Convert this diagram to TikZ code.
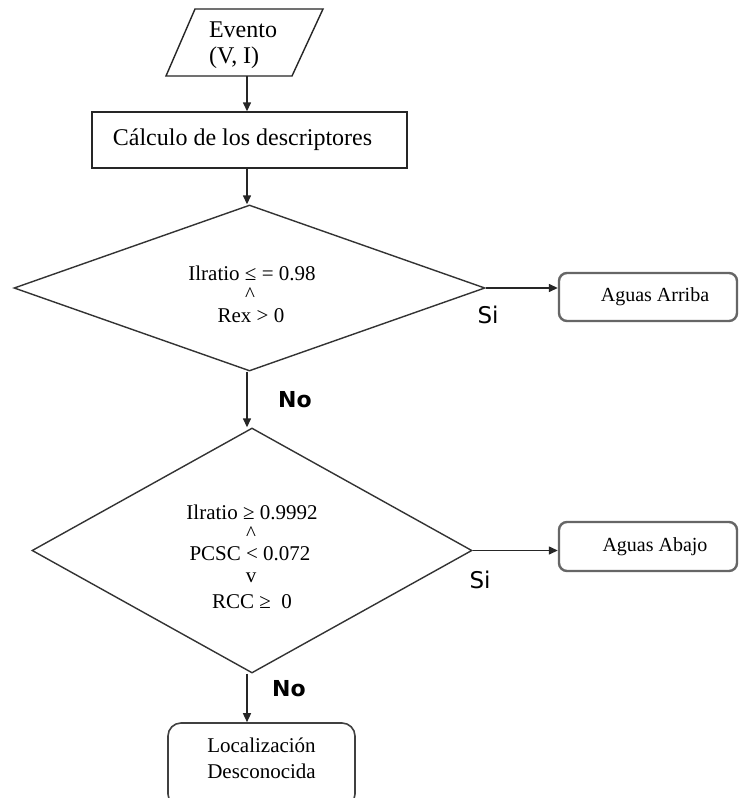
\documentclass[tikz,border=0pt]{standalone}
\usepackage{fontspec}
\setmainfont{Liberation Serif}
\newfontfamily\sifont{DejaVu Sans}
\usetikzlibrary{shapes.geometric,arrows.meta}
\begin{document}
\begin{tikzpicture}[x=1pt,y=-1pt,
  line/.style={draw=black!85, line width=1.4pt},
  arr/.style={line, -{Triangle[length=9pt,width=8pt]}},
  dec/.style={diamond, draw=black!80, line width=1.4pt, inner sep=0pt, aspect=1},
  txt/.style={font=\fontsize{21}{25}\selectfont, inner sep=0pt, anchor=base},
  rbox/.style={draw=black!60, line width=2.4pt, rounded corners=8pt, inner sep=0pt, font=\fontsize{20}{24}\selectfont},
  lbl/.style={font=\sifont\fontsize{23}{26}\selectfont, inner sep=0pt},
  lblb/.style={font=\sifont\bfseries\fontsize{22}{26}\selectfont, inner sep=0pt},
]
\useasboundingbox (0,0) rectangle (740,798);
\fill[white] (0,0) rectangle (740,798);

% input parallelogram
\draw[line] (195,9) -- (323,9) -- (292,76) -- (166,76) -- cycle;
\node (ev) [align=left, inner sep=0pt, font=\fontsize{24}{26}\selectfont] at (243,45.5) {Evento\\(V, I)};
\coordinate (evb) at (247,76);

% process
\node (calc) [draw=black!85, line width=1.4pt, minimum width=315pt, minimum height=56pt, inner sep=0pt,
  font=\fontsize{24}{28}\selectfont] at (249.5,140) {\hspace*{-14pt}Cálculo de los descriptores};

% decisions
\node (d1) [dec, minimum width=471pt, minimum height=166pt] at (249.5,288) {};
\node (d2) [dec, minimum width=440pt, minimum height=245pt] at (252,550.5) {};

\node (d1a) [txt] at (252,280) {Ilratio ≤ = 0.98};
\node (d1b) [txt] at (250,301) {\textasciicircum};
\node (d1c) [txt] at (251,322) {Rex > 0};

\node (d2a) [txt] at (252,519) {Ilratio ≥ 0.9992};
\node (d2b) [txt] at (251,540) {\textasciicircum};
\node (d2c) [txt] at (250,560) {PCSC < 0.072};
\node (d2d) [txt] at (251,582) {v};
\node (d2e) [txt] at (252,608) {RCC ≥\ \ 0};

% outputs
\node (ab1) [rbox, minimum width=178pt, minimum height=48pt] at (648,297) {\hspace*{14pt}Aguas Arriba};
\node (ab2) [rbox, minimum width=178pt, minimum height=49pt] at (648,546.5) {\hspace*{14pt}Aguas Abajo};
\node (loc) [draw=black!75, line width=1.6pt, rounded corners=13pt, minimum width=187pt, minimum height=84pt,
  inner sep=0pt, align=center, font=\fontsize{21}{26}\selectfont] at (261.5,765) {Localización\\Desconocida\\[-12pt]};

% connectors
\draw[arr] (evb) -- (evb |- calc.north);
\draw[arr] (calc.south -| evb) -- (d1.north -| evb);
\draw[arr] (d1.south -| evb) -- (d2.north -| evb);
\draw[arr] (d2.south -| evb) -- (loc.north -| evb);
\draw[arr] (d1.east) -- (ab1.west |- d1.east);
\draw[arr] (d2.east) -- (ab2.west |- d2.east);

% labels
\node (si1) [lbl] at (488,315) {Si};
\node (si2) [lbl] at (480,580) {Si};
\node (no1) [lblb] at (295,400) {No};
\node (no2) [lblb] at (289,689) {No};
\end{tikzpicture}
\end{document}
